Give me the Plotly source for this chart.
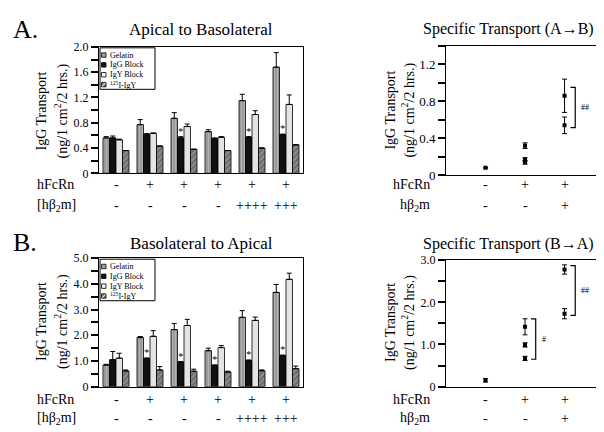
import plotly.graph_objects as go

W, H = 604, 432
FONT = "Liberation Serif, Times New Roman, serif"

# ---------------- data ----------------
series = ["Gelatin", "IgG Block", "IgY Block", "<sup>125</sup>I-IgY"]
bar_conditions = [1, 2, 3, 4, 5, 6]
hfcrn_bar = ["-", "+", "+", "+", "+", "+"]
hb2m_bar = ["-", "-", "-", "-", "++++", "+++"]

# A. apical to basolateral
ab_gelatin = [0.56, 0.77, 0.87, 0.66, 1.15, 1.68]
ab_gelatin_err = [0.02, 0.08, 0.09, 0.03, 0.10, 0.23]
ab_iggblock = [0.56, 0.61, 0.56, 0.55, 0.57, 0.61]
ab_iggblock_err = [0.03, 0.02, 0.02, 0.01, 0.01, 0.01]
ab_igyblock = [0.53, 0.63, 0.74, 0.57, 0.93, 1.09]
ab_igyblock_err = [0.01, 0.01, 0.04, 0.01, 0.06, 0.15]
ab_igy125 = [0.36, 0.43, 0.38, 0.36, 0.40, 0.45]
ab_igy125_err = [0.0, 0.0, 0.0, 0.0, 0.0, 0.0]
ab_sig = [False, False, True, False, True, True]

# B. basolateral to apical
ba_gelatin = [0.84, 1.91, 2.22, 1.40, 2.70, 3.67]
ba_gelatin_err = [0.03, 0.04, 0.24, 0.10, 0.26, 0.31]
ba_iggblock = [1.05, 1.09, 0.95, 0.82, 1.01, 1.20]
ba_iggblock_err = [0.32, 0.03, 0.03, 0.03, 0.03, 0.03]
ba_igyblock = [1.11, 1.96, 2.38, 1.52, 2.58, 4.18]
ba_igyblock_err = [0.19, 0.22, 0.24, 0.08, 0.13, 0.24]
ba_igy125 = [0.61, 0.65, 0.60, 0.57, 0.62, 0.70]
ba_igy125_err = [0.04, 0.13, 0.08, 0.03, 0.03, 0.10]
ba_sig = [False, True, True, True, True, True]

# specific transport
hfcrn_spec = ["-", "+", "+"]
hb2m_spec = ["-", "-", "+"]
ab_spec_cond = [1, 2, 2, 2, 3, 3]
ab_spec_val = [0.08, 0.32, 0.17, 0.14, 0.86, 0.54]
ab_spec_err = [0.0, 0.03, 0.02, 0.02, 0.18, 0.09]
ba_spec_cond = [1, 2, 2, 2, 3, 3]
ba_spec_val = [0.15, 1.42, 0.99, 0.67, 2.78, 1.73]
ba_spec_err = [0.04, 0.19, 0.05, 0.05, 0.11, 0.12]

# significance brackets: (condition, top, bottom, label)
ab_brackets = [(3, 0.95, 0.515, "##")]
ba_brackets = [(2, 1.61, 0.65, "#"), (3, 2.87, 1.69, "##")]

# tick labels
ab_ticks = [0, 0.4, 0.8, 1.2, 1.6, 2.0]
ab_ticktext = ["0", "0.4", "0.8", "1.2", "1.6", "2.0"]
ba_ticks = [0, 1, 2, 3, 4, 5]
ba_ticktext = ["0", "1.0", "2.0", "3.0", "4.0", "5.0"]
abs_ticks = [0, 0.4, 0.8, 1.2]
abs_ticktext = ["0", "0.4", "0.8", "1.2"]
bas_ticks = [0, 1, 2, 3]
bas_ticktext = ["0", "1.0", "2.0", "3.0"]


def px(x):
    return x / W


def py(y):
    return 1 - y / H


def dom_x(a, b):
    return [a / W, b / W]


def dom_y(top, bottom):
    return [1 - bottom / H, 1 - top / H]


BARGAP = 0.235
fig = go.Figure()

bar_colors = ["#a0a0a0", "#111111", "#e4e4e4", "#8a8a8a"]
bar_patterns = [
    dict(shape="|", fgcolor="#cfcfcf", bgcolor="#9a9a9a", size=3, solidity=0.3),
    None,
    None,
    dict(shape="/", fgcolor="#333333", bgcolor="#8a8a8a", size=4, solidity=0.3),
]


def add_bars(xa, ya, values, errors, sig):
    for k, (name, vals, errs) in enumerate(zip(series, values, errors)):
        marker = dict(color=bar_colors[k], line=dict(color="black", width=0.8))
        if bar_patterns[k]:
            marker["pattern"] = bar_patterns[k]
        fig.add_trace(go.Bar(
            x=bar_conditions, y=vals, name=name, xaxis=xa, yaxis=ya,
            marker=marker, showlegend=False,
            error_y=dict(type="data", array=errs, arrayminus=[0] * len(errs),
                         symmetric=False, color="black", thickness=1, width=2.5)))
    # asterisks over the IgG Block bars (2nd bar of each group)
    bw = (1 - BARGAP) / len(series)
    off = -(1 - BARGAP) / 2 + bw * 1.5
    sx = [c + off for c, s in zip(bar_conditions, sig) if s]
    sy = [v for v, s in zip(values[1], sig) if s]
    fig.add_trace(go.Scatter(
        x=sx, y=sy, mode="text", text=["*"] * len(sx), textposition="top center",
        xaxis=xa, yaxis=ya, showlegend=False, cliponaxis=False,
        textfont=dict(family=FONT, size=10, color="black")))


add_bars("x", "y", [ab_gelatin, ab_iggblock, ab_igyblock, ab_igy125],
         [ab_gelatin_err, ab_iggblock_err, ab_igyblock_err, ab_igy125_err], ab_sig)
add_bars("x3", "y3", [ba_gelatin, ba_iggblock, ba_igyblock, ba_igy125],
         [ba_gelatin_err, ba_iggblock_err, ba_igyblock_err, ba_igy125_err], ba_sig)

for xa, ya, cond, val, err in [("x2", "y2", ab_spec_cond, ab_spec_val, ab_spec_err),
                               ("x4", "y4", ba_spec_cond, ba_spec_val, ba_spec_err)]:
    fig.add_trace(go.Scatter(
        x=cond, y=val, mode="markers", xaxis=xa, yaxis=ya, showlegend=False,
        marker=dict(symbol="square", size=4, color="black"),
        error_y=dict(type="data", array=err, color="black", thickness=1, width=2.5)))

shapes = []
annotations = []

for xr, yr, brackets in [("x2", "y2", ab_brackets), ("x4", "y4", ba_brackets)]:
    for cond, hi, lo, lab in brackets:
        x0, x1 = cond + 0.15, cond + 0.27
        shapes.append(dict(type="path", xref=xr, yref=yr,
                           path=f"M{x0},{hi} L{x1},{hi} L{x1},{lo} L{x0},{lo}",
                           line=dict(color="black", width=1.2)))
        annotations.append(dict(x=x1, y=(hi + lo) / 2, xref=xr, yref=yr, text=lab,
                                showarrow=False, xanchor="left", xshift=4,
                                font=dict(family=FONT, size=8, color="black")))

# manual legends inside the bar panels
legend_fill = ["#a0a0a0", "#111111", "#f2f2f2", "#7a7a7a"]
for top in [33, 252]:
    shapes.append(dict(type="rect", xref="paper", yref="paper",
                       x0=px(92), x1=px(147), y0=py(top + 44), y1=py(top + 1),
                       line=dict(color="black", width=1), fillcolor="white"))
    for i, name in enumerate(series):
        yc = top + 8.5 + 10.2 * i
        shapes.append(dict(type="rect", xref="paper", yref="paper",
                           x0=px(93.5), x1=px(98), y0=py(yc + 2.3), y1=py(yc - 2.3),
                           line=dict(color="black", width=0.8), fillcolor=legend_fill[i]))
        if i == 3:
            shapes.append(dict(type="line", xref="paper", yref="paper",
                               x0=px(94), x1=px(97.5), y0=py(yc + 1.8), y1=py(yc - 1.8),
                               line=dict(color="white", width=1)))
        annotations.append(dict(x=px(100), y=py(yc), xref="paper", yref="paper",
                                text=name, showarrow=False, xanchor="left", yanchor="middle",
                                font=dict(family=FONT, size=8, color="black")))


def txt(x, y, s, size=14, xanchor="center", angle=0):
    annotations.append(dict(x=px(x), y=py(y), xref="paper", yref="paper", text=s,
                            showarrow=False, xanchor=xanchor, yanchor="middle",
                            textangle=angle, font=dict(family=FONT, size=size, color="black")))


# panel letters and titles
txt(3, 15, "A.", size=26, xanchor="left")
txt(3, 236, "B.", size=26, xanchor="left")
txt(193, 15, "Apical to Basolateral", size=17)
txt(193, 237, "Basolateral to Apical", size=17)
txt(413, 15, "Specific Transport (A→B)", size=16, xanchor="left")
txt(413, 237, "Specific Transport (B→A)", size=16, xanchor="left")

# y-axis titles
for xa, xb, yc in [(34, 54, 100), (383, 401, 99), (34, 54, 318), (383, 401, 319)]:
    txt(xa, yc, "IgG Transport", size=14, angle=-90)
    txt(xb, yc, "(ng/1 cm<sup>2</sup>/2 hrs.)", size=14, angle=-90)

# condition rows below the panels
for xr, r1, r2 in [("x", 176, 197), ("x3", 398, 418)]:
    txt(27, r1, "hFcRn", size=14, xanchor="left")
    txt(27, r2, "[hβ<sub>2</sub>m]", size=14, xanchor="left")
    for c, a, b in zip(bar_conditions, hfcrn_bar, hb2m_bar):
        for s, yy in [(a, r1), (b, r2)]:
            annotations.append(dict(x=c, y=py(yy), xref=xr, yref="paper", text=s,
                                    showarrow=False, yanchor="middle",
                                    font=dict(family=FONT, size=14, color="black")))
for xr, r1, r2 in [("x2", 176, 197), ("x4", 398, 418)]:
    txt(424, r1, "hFcRn", size=14, xanchor="right")
    txt(424, r2, "hβ<sub>2</sub>m", size=14, xanchor="right")
    for c, (a, b) in enumerate(zip(hfcrn_spec, hb2m_spec), start=1):
        for s, yy in [(a, r1), (b, r2)]:
            annotations.append(dict(x=c, y=py(yy), xref=xr, yref="paper", text=s,
                                    showarrow=False, yanchor="middle",
                                    font=dict(family=FONT, size=14, color="black")))

frame = dict(showline=True, linecolor="black", linewidth=1, mirror=True,
             showgrid=False, zeroline=False)
xbar = dict(frame, range=[0.5, 6.5], showticklabels=False, ticks="")
xspec = dict(frame, range=[0, 4.15], showticklabels=False, ticks="")


def yax(rng, tv, tt, minor_dt, size):
    return dict(frame, range=rng, tickmode="array", tickvals=tv, ticktext=tt,
                ticks="outside", ticklen=7, tickwidth=1.5, tickcolor="black",
                minor=dict(tickmode="linear", tick0=0, dtick=minor_dt, ticks="outside",
                           ticklen=7, tickwidth=1.5, tickcolor="black"),
                tickfont=dict(family=FONT, size=size, color="black"))


fig.update_layout(
    width=W, height=H,
    margin=dict(l=0, r=0, t=0, b=0),
    paper_bgcolor="white", plot_bgcolor="white",
    barmode="group", bargap=BARGAP, bargroupgap=0,
    font=dict(family=FONT, color="black"),
    xaxis=dict(xbar, domain=dom_x(91, 295), anchor="y"),
    yaxis=dict(yax([0, 2.001], ab_ticks, ab_ticktext, 0.2, 12), domain=dom_y(33, 164), anchor="x"),
    xaxis2=dict(xspec, domain=dom_x(438, 602), anchor="y2"),
    yaxis2=dict(yax([0, 1.4], abs_ticks, abs_ticktext, 0.2, 13), domain=dom_y(32, 166), anchor="x2"),
    xaxis3=dict(xbar, domain=dom_x(91, 295), anchor="y3"),
    yaxis3=dict(yax([0, 5.001], ba_ticks, ba_ticktext, 0.5, 12), domain=dom_y(252, 385), anchor="x3"),
    xaxis4=dict(xspec, domain=dom_x(438, 602), anchor="y4"),
    yaxis4=dict(yax([0, 3.001], bas_ticks, bas_ticktext, 0.5, 12), domain=dom_y(254, 385), anchor="x4"),
    shapes=shapes,
    annotations=annotations,
)

fig.write_html("out.html")
